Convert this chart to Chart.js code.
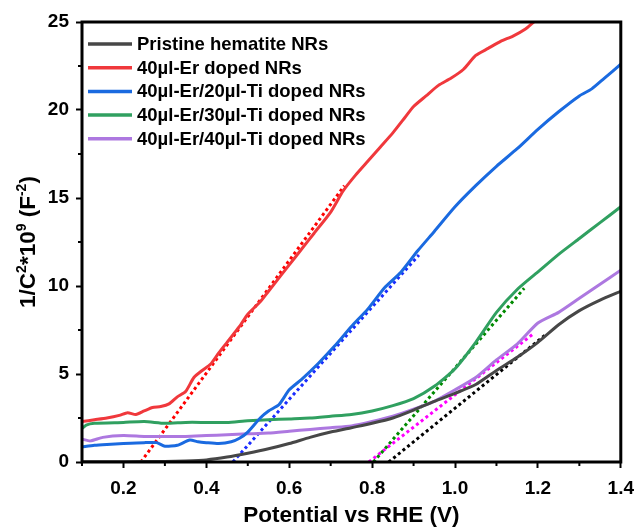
<!DOCTYPE html>
<html>
<head>
<meta charset="utf-8">
<script src="https://cdn.jsdelivr.net/npm/chart.js@4.4.0/dist/chart.umd.min.js"></script>
<style>
  html, body { margin: 0; padding: 0; background: #fff; }
  #wrap { width: 643px; height: 527px; }
</style>
</head>
<body>
<div id="wrap"><canvas id="mott"></canvas></div>
<script>
// MOTT-SCHOTTKY CURVES
const pristineX = [0.1, 0.2, 0.3, 0.35, 0.4, 0.45, 0.5, 0.55, 0.6, 0.65, 0.7, 0.75, 0.8, 0.85, 0.9, 0.95, 1.0, 1.05, 1.1, 1.15, 1.2, 1.25, 1.3, 1.35, 1.4];
const pristineY = [0.02, 0.02, 0.03, 0.06, 0.12, 0.28, 0.5, 0.75, 1.05, 1.4, 1.7, 1.95, 2.2, 2.5, 2.95, 3.45, 3.9, 4.4, 5.2, 5.95, 6.8, 7.8, 8.6, 9.2, 9.7];

const er40X = [0.1, 0.13, 0.16, 0.19, 0.21, 0.23, 0.25, 0.27, 0.29, 0.31, 0.33, 0.35, 0.37, 0.39, 0.41, 0.43, 0.45, 0.48, 0.5, 0.53, 0.55, 0.58, 0.6, 0.63, 0.66, 0.7, 0.73, 0.76, 0.79, 0.82, 0.85, 0.88, 0.9, 0.93, 0.96, 0.99, 1.02, 1.05, 1.08, 1.11, 1.14, 1.17, 1.19, 1.21];
const er40Y = [2.3, 2.4, 2.5, 2.65, 2.8, 2.7, 2.9, 3.1, 3.15, 3.3, 3.7, 4.0, 4.8, 5.2, 5.55, 6.2, 6.8, 7.7, 8.4, 9.1, 9.7, 10.6, 11.2, 12.1, 13.0, 14.2, 15.4, 16.3, 17.1, 17.9, 18.7, 19.6, 20.2, 20.8, 21.4, 21.8, 22.3, 23.1, 23.5, 23.9, 24.2, 24.6, 25.0, 25.3];

const ti20X = [0.1, 0.13, 0.16, 0.2, 0.25, 0.28, 0.3, 0.33, 0.36, 0.38, 0.4, 0.43, 0.46, 0.48, 0.5, 0.53, 0.55, 0.575, 0.6, 0.63, 0.67, 0.71, 0.75, 0.79, 0.83, 0.87, 0.91, 0.95, 1.0, 1.05, 1.1, 1.15, 1.2, 1.25, 1.3, 1.33, 1.36, 1.4];
const ti20Y = [0.85, 0.95, 1.0, 1.05, 1.1, 1.1, 0.9, 0.95, 1.25, 1.15, 1.1, 1.05, 1.15, 1.35, 1.7, 2.5, 2.9, 3.25, 4.1, 4.7, 5.6, 6.6, 7.7, 8.7, 9.9, 10.8, 12.0, 13.1, 14.5, 15.7, 16.8, 17.8, 18.9, 19.9, 20.8, 21.2, 21.8, 22.6];

const ti30X = [0.1, 0.11, 0.13, 0.2, 0.25, 0.3, 0.35, 0.4, 0.45, 0.5, 0.55, 0.6, 0.65, 0.7, 0.75, 0.8, 0.85, 0.9, 0.95, 1.0, 1.05, 1.1, 1.15, 1.2, 1.25, 1.3, 1.35, 1.4];
const ti30Y = [1.9, 2.1, 2.2, 2.25, 2.3, 2.2, 2.25, 2.25, 2.25, 2.35, 2.4, 2.45, 2.5, 2.6, 2.7, 2.9, 3.2, 3.6, 4.3, 5.3, 6.8, 8.5, 9.8, 10.8, 11.8, 12.7, 13.6, 14.5];

const ti40X = [0.1, 0.12, 0.15, 0.2, 0.25, 0.3, 0.35, 0.4, 0.45, 0.5, 0.55, 0.6, 0.65, 0.7, 0.75, 0.8, 0.85, 0.9, 0.95, 1.0, 1.05, 1.1, 1.15, 1.2, 1.25, 1.3, 1.35, 1.4];
const ti40Y = [1.3, 1.2, 1.4, 1.5, 1.45, 1.45, 1.45, 1.5, 1.55, 1.6, 1.65, 1.75, 1.85, 1.95, 2.05, 2.3, 2.6, 3.0, 3.45, 4.1, 4.8, 5.8, 6.7, 7.9, 8.5, 9.3, 10.1, 10.9];

// LINEAR FITS (flat band potential intercepts)
const fitRedX = [0.242, 0.733];     const fitRedY = [0, 15.7];
const fitBlueX = [0.464, 0.913];    const fitBlueY = [0, 11.76];
const fitGreenX = [0.803, 1.167];   const fitGreenY = [0, 9.87];
const fitMagentaX = [0.792, 1.19];  const fitMagentaY = [0, 7.3];
const fitBlackX = [0.84, 1.222];    const fitBlackY = [0, 7.3];

// AXES
const xTicks = [0.2, 0.4, 0.6, 0.8, 1.0, 1.2, 1.4];
const xMinorTicks = [0.1, 0.3, 0.5, 0.7, 0.9, 1.1, 1.3];
const yTicks = [0, 5, 10, 15, 20, 25];
const yMinorTicks = [2.5, 7.5, 12.5, 17.5, 22.5];

const seriesLabels = [
  'Pristine hematite NRs',
  '40\u00b5l-Er doped NRs',
  '40\u00b5l-Er/20\u00b5l-Ti doped NRs',
  '40\u00b5l-Er/30\u00b5l-Ti doped NRs',
  '40\u00b5l-Er/40\u00b5l-Ti doped NRs'
];
const seriesColors = ['#474747', '#f0383c', '#1a6ae0', '#30a060', '#ad78e0'];
const fitColors = ['#ff0000', '#1a2cff', '#008a00', '#ff00ff', '#000000'];

// y title pieces: [text, superscript?]
const yTitleParts = [['1/C', false], ['2', true], ['*10', false], ['9', true], [' (F', false], ['-2', true], [')', false]];

const fontFam = 'Arial, "Liberation Sans", sans-serif';

function toPoints(xs, ys) {
  return xs.map((x, i) => ({ x: x, y: ys[i] }));
}

function solidSet(label, xs, ys, color) {
  return {
    label: label,
    data: toPoints(xs, ys),
    borderColor: color,
    backgroundColor: color,
    borderWidth: 3,
    pointRadius: 0,
    tension: 0.2
  };
}

function fitSet(xs, ys, color) {
  return {
    label: 'fit',
    isFit: true,
    data: toPoints(xs, ys),
    borderColor: color,
    backgroundColor: color,
    borderWidth: 3,
    borderDash: [3, 3],
    pointRadius: 0
  };
}

// FRAME, MINOR TICKS, LEGEND AND Y TITLE
const decorPlugin = {
  id: 'decor',
  afterDraw(chart) {
    const ctx = chart.ctx;
    const a = chart.chartArea;
    const xs = chart.scales.x;
    const ys = chart.scales.y;
    ctx.save();
    ctx.strokeStyle = '#000';
    ctx.lineWidth = 2;
    xMinorTicks.forEach(v => {
      const px = xs.getPixelForValue(v);
      ctx.beginPath();
      ctx.moveTo(px, a.bottom);
      ctx.lineTo(px, a.bottom + 4);
      ctx.stroke();
    });
    yMinorTicks.forEach(v => {
      const py = ys.getPixelForValue(v);
      ctx.beginPath();
      ctx.moveTo(a.left, py);
      ctx.lineTo(a.left - 4, py);
      ctx.stroke();
    });
    ctx.lineWidth = 3;
    ctx.strokeRect(a.left, a.top, a.right - a.left, a.bottom - a.top);

    // legend
    ctx.font = 'bold 18.5px ' + fontFam;
    ctx.textBaseline = 'middle';
    ctx.textAlign = 'left';
    chart.data.datasets.filter(d => !d.isFit).forEach((d, i) => {
      const y = a.top + 22 + i * 23.7;
      ctx.strokeStyle = d.borderColor;
      ctx.lineWidth = 3.5;
      ctx.beginPath();
      ctx.moveTo(a.left + 6, y);
      ctx.lineTo(a.left + 50, y);
      ctx.stroke();
      ctx.fillStyle = '#000';
      ctx.fillText(d.label, a.left + 55, y + 1);
    });

    // y axis title with superscripts
    const mainFont = 'bold 22.5px ' + fontFam;
    const supFont = 'bold 14px ' + fontFam;
    let total = 0;
    yTitleParts.forEach(p => {
      ctx.font = p[1] ? supFont : mainFont;
      total += ctx.measureText(p[0]).width;
    });
    ctx.translate(27, (a.top + a.bottom) / 2);
    ctx.rotate(-Math.PI / 2);
    ctx.fillStyle = '#000';
    ctx.textBaseline = 'alphabetic';
    let x = -total / 2;
    yTitleParts.forEach(p => {
      ctx.font = p[1] ? supFont : mainFont;
      ctx.fillText(p[0], x, p[1] ? -1 : 8);
      x += ctx.measureText(p[0]).width;
    });
    ctx.restore();
  }
};

document.addEventListener('DOMContentLoaded', () => {
  const cvs = document.getElementById('mott');
  cvs.width = 643;
  cvs.height = 527;

  const datasets = [
    solidSet(seriesLabels[0], pristineX, pristineY, seriesColors[0]),
    solidSet(seriesLabels[1], er40X, er40Y, seriesColors[1]),
    solidSet(seriesLabels[2], ti20X, ti20Y, seriesColors[2]),
    solidSet(seriesLabels[3], ti30X, ti30Y, seriesColors[3]),
    solidSet(seriesLabels[4], ti40X, ti40Y, seriesColors[4]),
    fitSet(fitRedX, fitRedY, fitColors[0]),
    fitSet(fitBlueX, fitBlueY, fitColors[1]),
    fitSet(fitGreenX, fitGreenY, fitColors[2]),
    fitSet(fitMagentaX, fitMagentaY, fitColors[3]),
    fitSet(fitBlackX, fitBlackY, fitColors[4])
  ];

  new Chart(cvs, {
    type: 'line',
    data: { datasets: datasets },
    options: {
      responsive: false,
      animation: false,
      layout: { padding: { top: 22, right: 14, left: 0, bottom: 0 } },
      plugins: {
        tooltip: { enabled: false },
        legend: { display: false }
      },
      scales: {
        x: {
          type: 'linear',
          min: 0.1,
          max: 1.4,
          afterBuildTicks: scale => { scale.ticks = xTicks.map(v => ({ value: v })); },
          afterFit: scale => { scale.height = 65; },
          grid: { drawOnChartArea: false, tickLength: 6, tickWidth: 2, tickColor: '#000' },
          border: { display: false },
          ticks: {
            color: '#000',
            padding: 9,
            maxRotation: 0,
            font: { family: fontFam, size: 19, weight: 'bold' },
            callback: v => v.toFixed(1)
          },
          title: {
            display: true,
            text: 'Potential vs RHE (V)',
            color: '#000',
            padding: { top: 0, bottom: -2 },
            font: { family: fontFam, size: 22.5, weight: 'bold' }
          }
        },
        y: {
          type: 'linear',
          min: 0,
          max: 25,
          afterBuildTicks: scale => { scale.ticks = yTicks.map(v => ({ value: v })); },
          afterFit: scale => { scale.width = 82; },
          grid: { drawOnChartArea: false, tickLength: 6, tickWidth: 2, tickColor: '#000' },
          border: { display: false },
          ticks: {
            color: '#000',
            padding: 7,
            font: { family: fontFam, size: 19, weight: 'bold' }
          }
        }
      }
    },
    plugins: [decorPlugin]
  });
});
</script>
</body>
</html>
